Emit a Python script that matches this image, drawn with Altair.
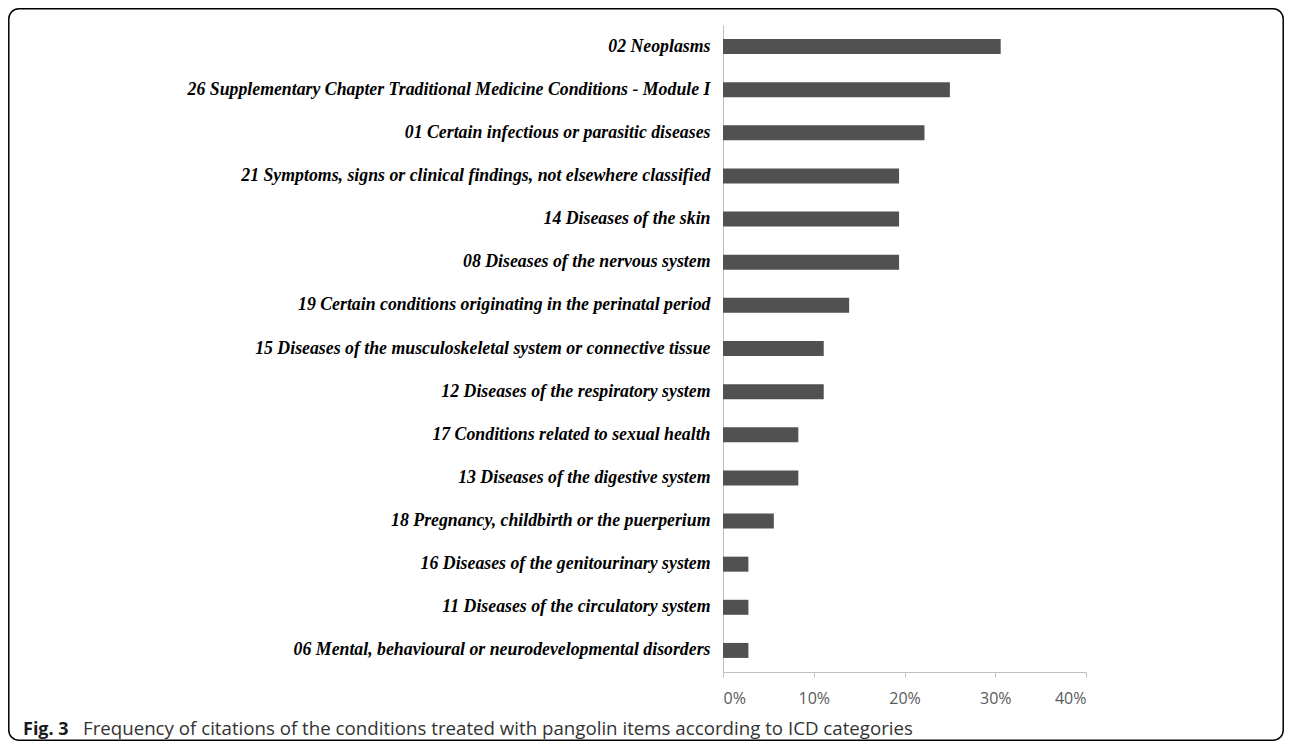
import altair as alt
import pandas as pd

categories = [
    "02 Neoplasms",
    "26 Supplementary Chapter Traditional Medicine Conditions - Module I",
    "01 Certain infectious or parasitic diseases",
    "21 Symptoms, signs or clinical findings, not elsewhere classified",
    "14 Diseases of the skin",
    "08 Diseases of the nervous system",
    "19 Certain conditions originating in the perinatal period",
    "15 Diseases of the musculoskeletal system or connective tissue",
    "12 Diseases of the respiratory system",
    "17 Conditions related to sexual health",
    "13 Diseases of the digestive system",
    "18 Pregnancy, childbirth or the puerperium",
    "16 Diseases of the genitourinary system",
    "11 Diseases of the circulatory system",
    "06 Mental, behavioural or neurodevelopmental disorders",
]
percent = [30.6, 25.0, 22.2, 19.4, 19.4, 19.4, 13.9, 11.1, 11.1, 8.3, 8.3, 5.6, 2.8, 2.8, 2.8]
x_ticks = [0, 0.1, 0.2, 0.3, 0.4]
caption_bold = "Fig. 3"
caption_rest = "Frequency of citations of the conditions treated with pangolin items according to ICD categories"

df = pd.DataFrame({"category": categories, "value": [p / 100 for p in percent]})

TOTAL_W, TOTAL_H = 1276, 733
W, H = 363, 647
PAD_L, PAD_T = 715, 17

bars = alt.Chart(df).mark_bar(color="#515151").encode(
    x=alt.X("value:Q",
            scale=alt.Scale(domain=[0, 0.4], nice=False),
            axis=alt.Axis(values=x_ticks, format=".0%", title=None, grid=False,
                          domainColor="#bfbfbf", tickColor="#bfbfbf", tickSize=5,
                          labelFont="Open Sans", labelFontSize=16, labelColor="#595959",
                          labelPadding=13)),
    y=alt.Y("category:N", sort=categories,
            scale=alt.Scale(paddingInner=0.652, paddingOuter=0.326),
            axis=alt.Axis(title=None, ticks=False, domainColor="#bfbfbf",
                          labelFont="Liberation Serif", labelFontSize=17.8,
                          labelFontWeight="bold", labelFontStyle="italic",
                          labelColor="#000000", labelPadding=13, labelLimit=1000)),
)

one = pd.DataFrame({"k": [0]})

border = alt.Chart(one).mark_rect(
    fill=None, fillOpacity=0, stroke="#000000", strokeWidth=1.5, cornerRadius=10, clip=False
).encode(
    x=alt.value(0.8 - PAD_L), x2=alt.value(TOTAL_W - 0.8 - PAD_L),
    y=alt.value(0.8 - PAD_T), y2=alt.value(TOTAL_H - 0.8 - PAD_T),
)

cap1 = alt.Chart(one).mark_text(
    text=caption_bold, font="Open Sans", fontWeight="bold", fontSize=18,
    align="left", baseline="alphabetic", color="#1a1a1a"
).encode(x=alt.value(15 - PAD_L), y=alt.value(727 - PAD_T))

cap2 = alt.Chart(one).mark_text(
    text=caption_rest, font="Open Sans", fontSize=18.7,
    align="left", baseline="alphabetic", color="#333333"
).encode(x=alt.value(75 - PAD_L), y=alt.value(727 - PAD_T))

chart = alt.layer(bars, border, cap1, cap2).properties(
    width=W, height=H,
    autosize=alt.AutoSizeParams(type="none"),
    padding={"left": PAD_L, "top": PAD_T, "right": TOTAL_W - PAD_L - W, "bottom": TOTAL_H - PAD_T - H},
    background="#ffffff",
).configure_view(stroke=None)

chart.save("out.html", embed_options={"renderer": "svg", "actions": False})
